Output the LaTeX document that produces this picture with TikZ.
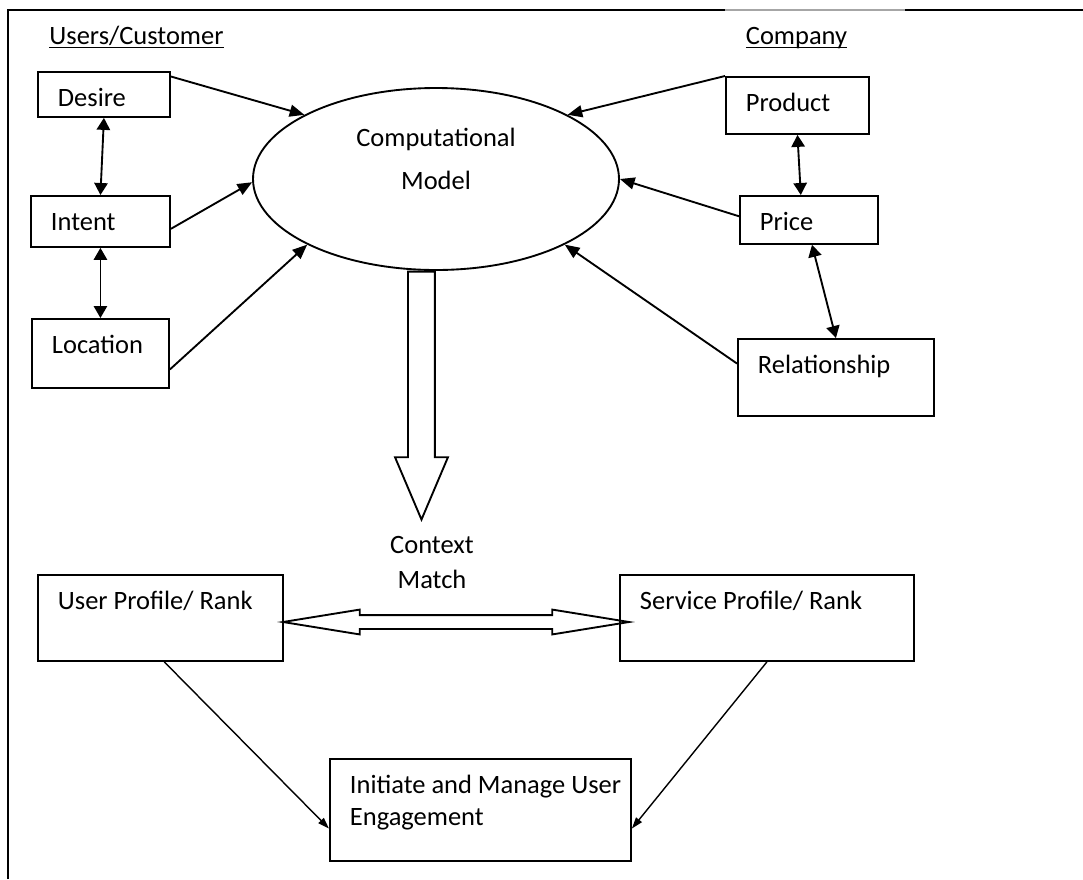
\documentclass[tikz,border=0pt]{standalone}
\usepackage{fontspec}
\setmainfont{Carlito}
\usetikzlibrary{shapes.geometric,shapes.arrows,arrows.meta}

\begin{document}
\begin{tikzpicture}[every node/.style={font=\fontsize{11.3}{13.6}\selectfont}]
	\tikzstyle{box}=[draw, thick, anchor=north west, align=flush left, inner xsep=0.3cm, inner ysep=0pt, text height=0.52cm]
	\tikzstyle{edge}=[draw, thick, -{Triangle[length=0.22cm,width=0.18cm]}]
	\tikzstyle{link}=[draw, thick, {Triangle[length=0.18cm,width=0.2cm]}-{Triangle[length=0.18cm,width=0.2cm]}]
	\tikzstyle{thinedge}=[draw, semithick, -{Triangle[length=0.17cm,width=0.11cm]}]
	\tikzstyle{hollow}=[draw, thick]
	\useasboundingbox (0,0) rectangle (16.245,-13.185);
	% frame
	\draw[thick] (0.12,-13.185) -- (0.12,-0.15) -- (10.875,-0.15);
	\draw[thick, black!35] (10.875,-0.15) -- (13.575,-0.15);
	\draw[thick] (13.575,-0.15) -- (16.245,-0.15);
	\begin{scope}
		\node (users) [anchor=base] at (2.0475,-0.66) {\underline{\smash{Users/Customer}}};
		\node (company) [anchor=base] at (11.9475,-0.66) {\underline{\smash{Company}}};
		\node [box, text width=1.38cm, text depth=0.155cm] (desire) at (0.555,-1.065) {Desire};
		\node [box, text width=1.485cm, text depth=0.245cm] (intent) at (0.45,-2.925) {Intent};
		\node [box, text width=1.455cm, text depth=0.515cm] (location) at (0.465,-4.77) {Location};
		\node [box, text width=1.545cm, text depth=0.335cm] (product) at (10.875,-1.14) {Product};
		\node [box, text width=1.47cm, text depth=0.2cm] (price) at (11.085,-2.925) {Price};
		\node [box, text width=2.34cm, text depth=0.635cm] (relation) at (11.055,-5.07) {Relationship};
		\node [ellipse, draw, thick, minimum width=5.49cm, minimum height=2.73cm, inner sep=0pt, text width=3cm, align=center, text height=0pt, text depth=0.99cm] (model) at (6.54,-2.685) {Computational\\[0.18cm]Model};
		\node [single arrow, hollow, shape border rotate=270, inner sep=0.1875cm, minimum height=3.72cm, minimum width=0.765cm, single arrow head extend=0.195cm, single arrow tip angle=46, anchor=tail] (flow) at (model.261) {};
		\node [anchor=base, align=center] (ctx) at (6.48,-8.83) {Context\\[0.05cm]Match};
		\node [box, text width=3.075cm, text depth=0.77cm] (user) at (0.555,-8.61) {User Profile/ Rank};
		\node [box, text width=3.81cm, text depth=0.77cm] (service) at (9.285,-8.61) {Service Profile/ Rank};
		\node [double arrow, hollow, inner sep=0.09cm, minimum height=5.19cm, minimum width=0.345cm, double arrow head extend=0.0825cm, double arrow tip angle=18.4] (match) at (6.84,-9.33) {};
		\node [box, text width=3.915cm, text depth=1.01cm] (engage) at (4.935,-11.37) {\mbox{Initiate and Manage User}\\Engagement};
		% inputs to the model
		\path (desire.15) edge[edge] (model.154);
		\path (intent.-6) edge[edge] (model.181);
		\path (location.-13) edge[edge] (model.207);
		\path (product.north west) edge[edge] (model.26);
		\path (price.177) edge[edge] (model.east);
		\path (relation.172) edge[edge] (model.-27);
		\path (desire.south) edge[link] (intent.north);
		\path (intent.south) edge[link] (location.north);
		\path (product.south) edge[link] (price.108);
		\path (price.-83) edge[link] (relation.north);
		% profiles to engagement
		\path (user.-85) edge[thinedge] (engage.187);
		\path (service.south) edge[thinedge] (engage.-7);
	\end{scope}
\end{tikzpicture}
\end{document}
